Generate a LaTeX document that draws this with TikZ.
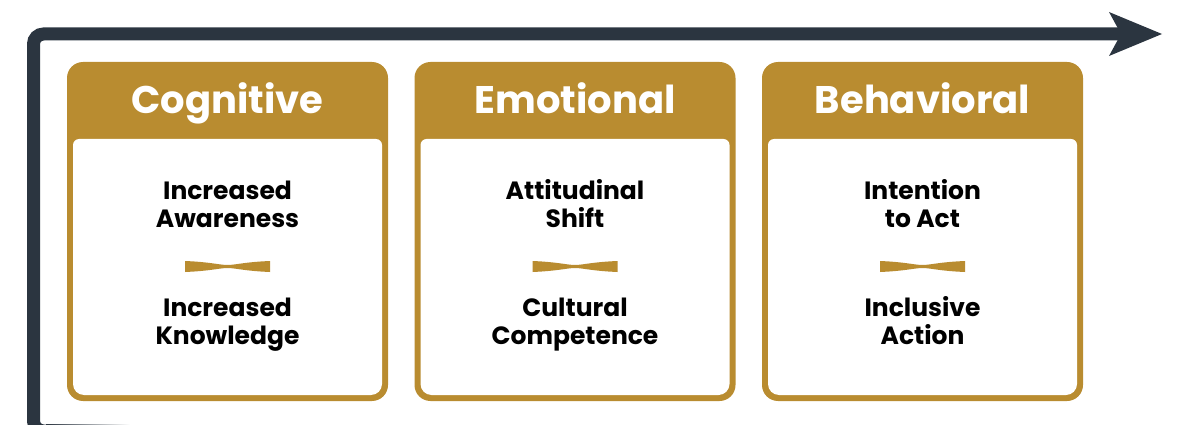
\documentclass[tikz,border=0pt]{standalone}
\usepackage{fontspec}
\setmainfont{Poppins}
\definecolor{gold}{RGB}{185,140,48}
\definecolor{slate}{RGB}{43,53,64}
\begin{document}
\begin{tikzpicture}[x=1pt,y=-1pt,
  head/.style={font=\fontsize{38.5}{38.5}\selectfont\bfseries, text=white, inner sep=0pt},
  item/.style={font=\fontsize{25}{28}\selectfont\bfseries, align=center, text=black, inner sep=0pt, anchor=base},
  frame/.style={fill=gold, rounded corners=16pt},
]
\useasboundingbox (0,0) rectangle (1179,425);

% timeline running up the left side and along the top
\begin{scope}
  \clip (0,0) rectangle (1179,425);
  \draw[slate, line width=13pt, rounded corners=10pt]
    (48,431) -- (33.5,431) -- (33.5,34) -- (1122,34);
  \shade[left color=slate, right color=white] (46,424.5) rectangle (130,437);
  \fill[slate] (1109,12) -- (1162,34) -- (1109,56) -- (1121,34) -- cycle;
\end{scope}

% the three stage panels
\foreach \i/\x/\title/\upper/\lower in {
  1/67/Cognitive/{Increased\\Awareness}/{Increased\\Knowledge},
  2/414.5/Emotional/{Attitudinal\\Shift}/{Cultural\\Competence},
  3/762/Behavioral/{Intention\\to Act}/{Inclusive\\Action}}{
  \fill[frame] (\x,62) rectangle (\x+321,401);
  \fill[white] (\x+6,250) [rounded corners=6pt] -- (\x+6,139) -- (\x+315,139)
    -- (\x+315,250) [rounded corners=11pt] -- (\x+315,395) -- (\x+6,395) -- cycle;
  \node[head, anchor=base] (head\i) at (\x+160.5,114) {\title};
  \node[item] (up\i) at (\x+160.5,227) {\upper};
  \node[item] (low\i) at (\x+160.5,344) {\lower};
  % bow-tie separator
  \fill[gold] (\x+118,261)
    .. controls (\x+143,262) and (\x+153,265) .. (\x+160.5,265)
    .. controls (\x+168,265) and (\x+178,262) .. (\x+203,261)
    -- (\x+203,272)
    .. controls (\x+178,271) and (\x+168,268) .. (\x+160.5,268)
    .. controls (\x+153,268) and (\x+143,271) .. (\x+118,272) -- cycle;
}
\end{tikzpicture}
\end{document}
